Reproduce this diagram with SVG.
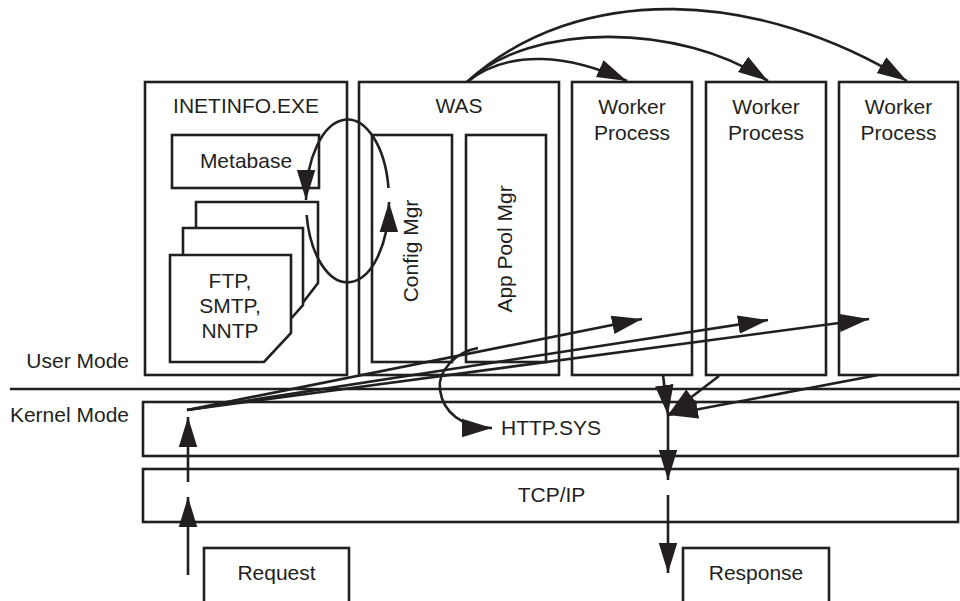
<svg xmlns="http://www.w3.org/2000/svg" width="960" height="601" viewBox="0 0 960 601">
<style>
.box{fill:#fff;stroke:#231f20;stroke-width:2.6}
.t{font-family:"Liberation Sans",Arial,sans-serif;font-size:21px;fill:#231f20;text-anchor:middle}
.te{font-family:"Liberation Sans",Arial,sans-serif;font-size:21px;fill:#231f20;text-anchor:end}
.ln{fill:none;stroke:#231f20;stroke-width:2.6}
.arr{fill:none;stroke:#231f20;stroke-width:2.6;marker-end:url(#ah)}
</style>
<defs>
<marker id="ah" markerUnits="userSpaceOnUse" markerWidth="30" markerHeight="20" refX="26" refY="8" orient="auto" viewBox="0 0 26 16">
<path d="M0,0 L26,8 L0,16 Z" fill="#231f20"/>
</marker>
</defs>
<rect width="960" height="601" fill="#fff"/>

<g id="inetinfo">
<rect class="box" x="145" y="82" width="202" height="293"/>
<text class="t" x="246" y="113">INETINFO.EXE</text>
</g>
<g id="metabase">
<rect class="box" x="172" y="135" width="147" height="53"/>
<text class="t" x="246" y="168">Metabase</text>
</g>
<g id="services">
<polygon class="box" points="196,202 318,202 318,283 298,309 196,309"/>
<polygon class="box" points="183,228 303,228 303,305 280,331 183,331"/>
<polygon class="box" points="170,255 291,255 291,333 264,362 170,362"/>
<text class="t" x="230" y="288">FTP,</text>
<text class="t" x="230" y="313">SMTP,</text>
<text class="t" x="230" y="338">NNTP</text>
</g>
<g id="was">
<rect class="box" x="359" y="82" width="200" height="293"/>
<text class="t" x="459" y="113">WAS</text>
</g>
<g id="configmgr">
<rect class="box" x="372" y="135" width="80" height="227"/>
<text class="t" transform="translate(418,251) rotate(-90)">Config Mgr</text>
</g>
<g id="apppoolmgr">
<rect class="box" x="466" y="135" width="80" height="227"/>
<text class="t" transform="translate(512,249) rotate(-90)">App Pool Mgr</text>
</g>
<g id="worker1">
<rect class="box" x="572" y="82" width="120" height="293"/>
<text class="t" x="632" y="114">Worker</text>
<text class="t" x="632" y="140">Process</text>
</g>
<g id="worker2">
<rect class="box" x="706" y="82" width="120" height="293"/>
<text class="t" x="766" y="114">Worker</text>
<text class="t" x="766" y="140">Process</text>
</g>
<g id="worker3">
<rect class="box" x="839" y="82" width="119" height="293"/>
<text class="t" x="898.5" y="114">Worker</text>
<text class="t" x="898.5" y="140">Process</text>
</g>
<g id="modes">
<line class="ln" x1="10" y1="389" x2="960" y2="389"/>
<text class="te" x="129" y="368">User Mode</text>
<text class="te" x="129" y="422">Kernel Mode</text>
</g>
<g id="httpsys">
<rect class="box" x="143" y="402" width="815" height="54"/>
<text class="t" x="551" y="435">HTTP.SYS</text>
</g>
<g id="tcpip">
<rect class="box" x="143" y="469" width="815" height="53"/>
<text class="t" x="551.5" y="502">TCP/IP</text>
</g>
<g id="request">
<rect class="box" x="204" y="548" width="145" height="60"/>
<text class="t" x="276.5" y="580">Request</text>
</g>
<g id="response">
<rect class="box" x="683" y="548" width="146" height="60"/>
<text class="t" x="756" y="580">Response</text>
</g>

<g id="connectors">
<path class="arr" d="M388.5,188 A41.5,81 0 0 0 306,200"/>
<path class="arr" d="M306.6,215 A41.5,81 0 0 0 389,202"/>
<path class="arr" d="M467,82 C510,48 570,55 627,81"/>
<path class="arr" d="M467,82 C530,22 680,22 768,81"/>
<path class="arr" d="M467,82 C580,-20 760,-10 907,81"/>
<line class="arr" x1="188" y1="575" x2="188" y2="497"/>
<line class="arr" x1="188" y1="482" x2="188" y2="417"/>
<line class="arr" x1="187" y1="410" x2="642" y2="319"/>
<line class="arr" x1="187" y1="410" x2="768" y2="320"/>
<line class="arr" x1="187" y1="410" x2="869" y2="319"/>
<path class="arr" d="M478,348 C455,352 437,372 440,390 C443,412 462,428 492,428"/>
<line class="arr" x1="663" y1="375" x2="668" y2="415"/>
<line class="arr" x1="719" y1="376" x2="668" y2="415"/>
<line class="arr" x1="878" y1="375" x2="668" y2="415"/>
<line class="arr" x1="668" y1="415" x2="668" y2="480"/>
<line class="arr" x1="668" y1="495" x2="668" y2="573"/>
</g>
</svg>
